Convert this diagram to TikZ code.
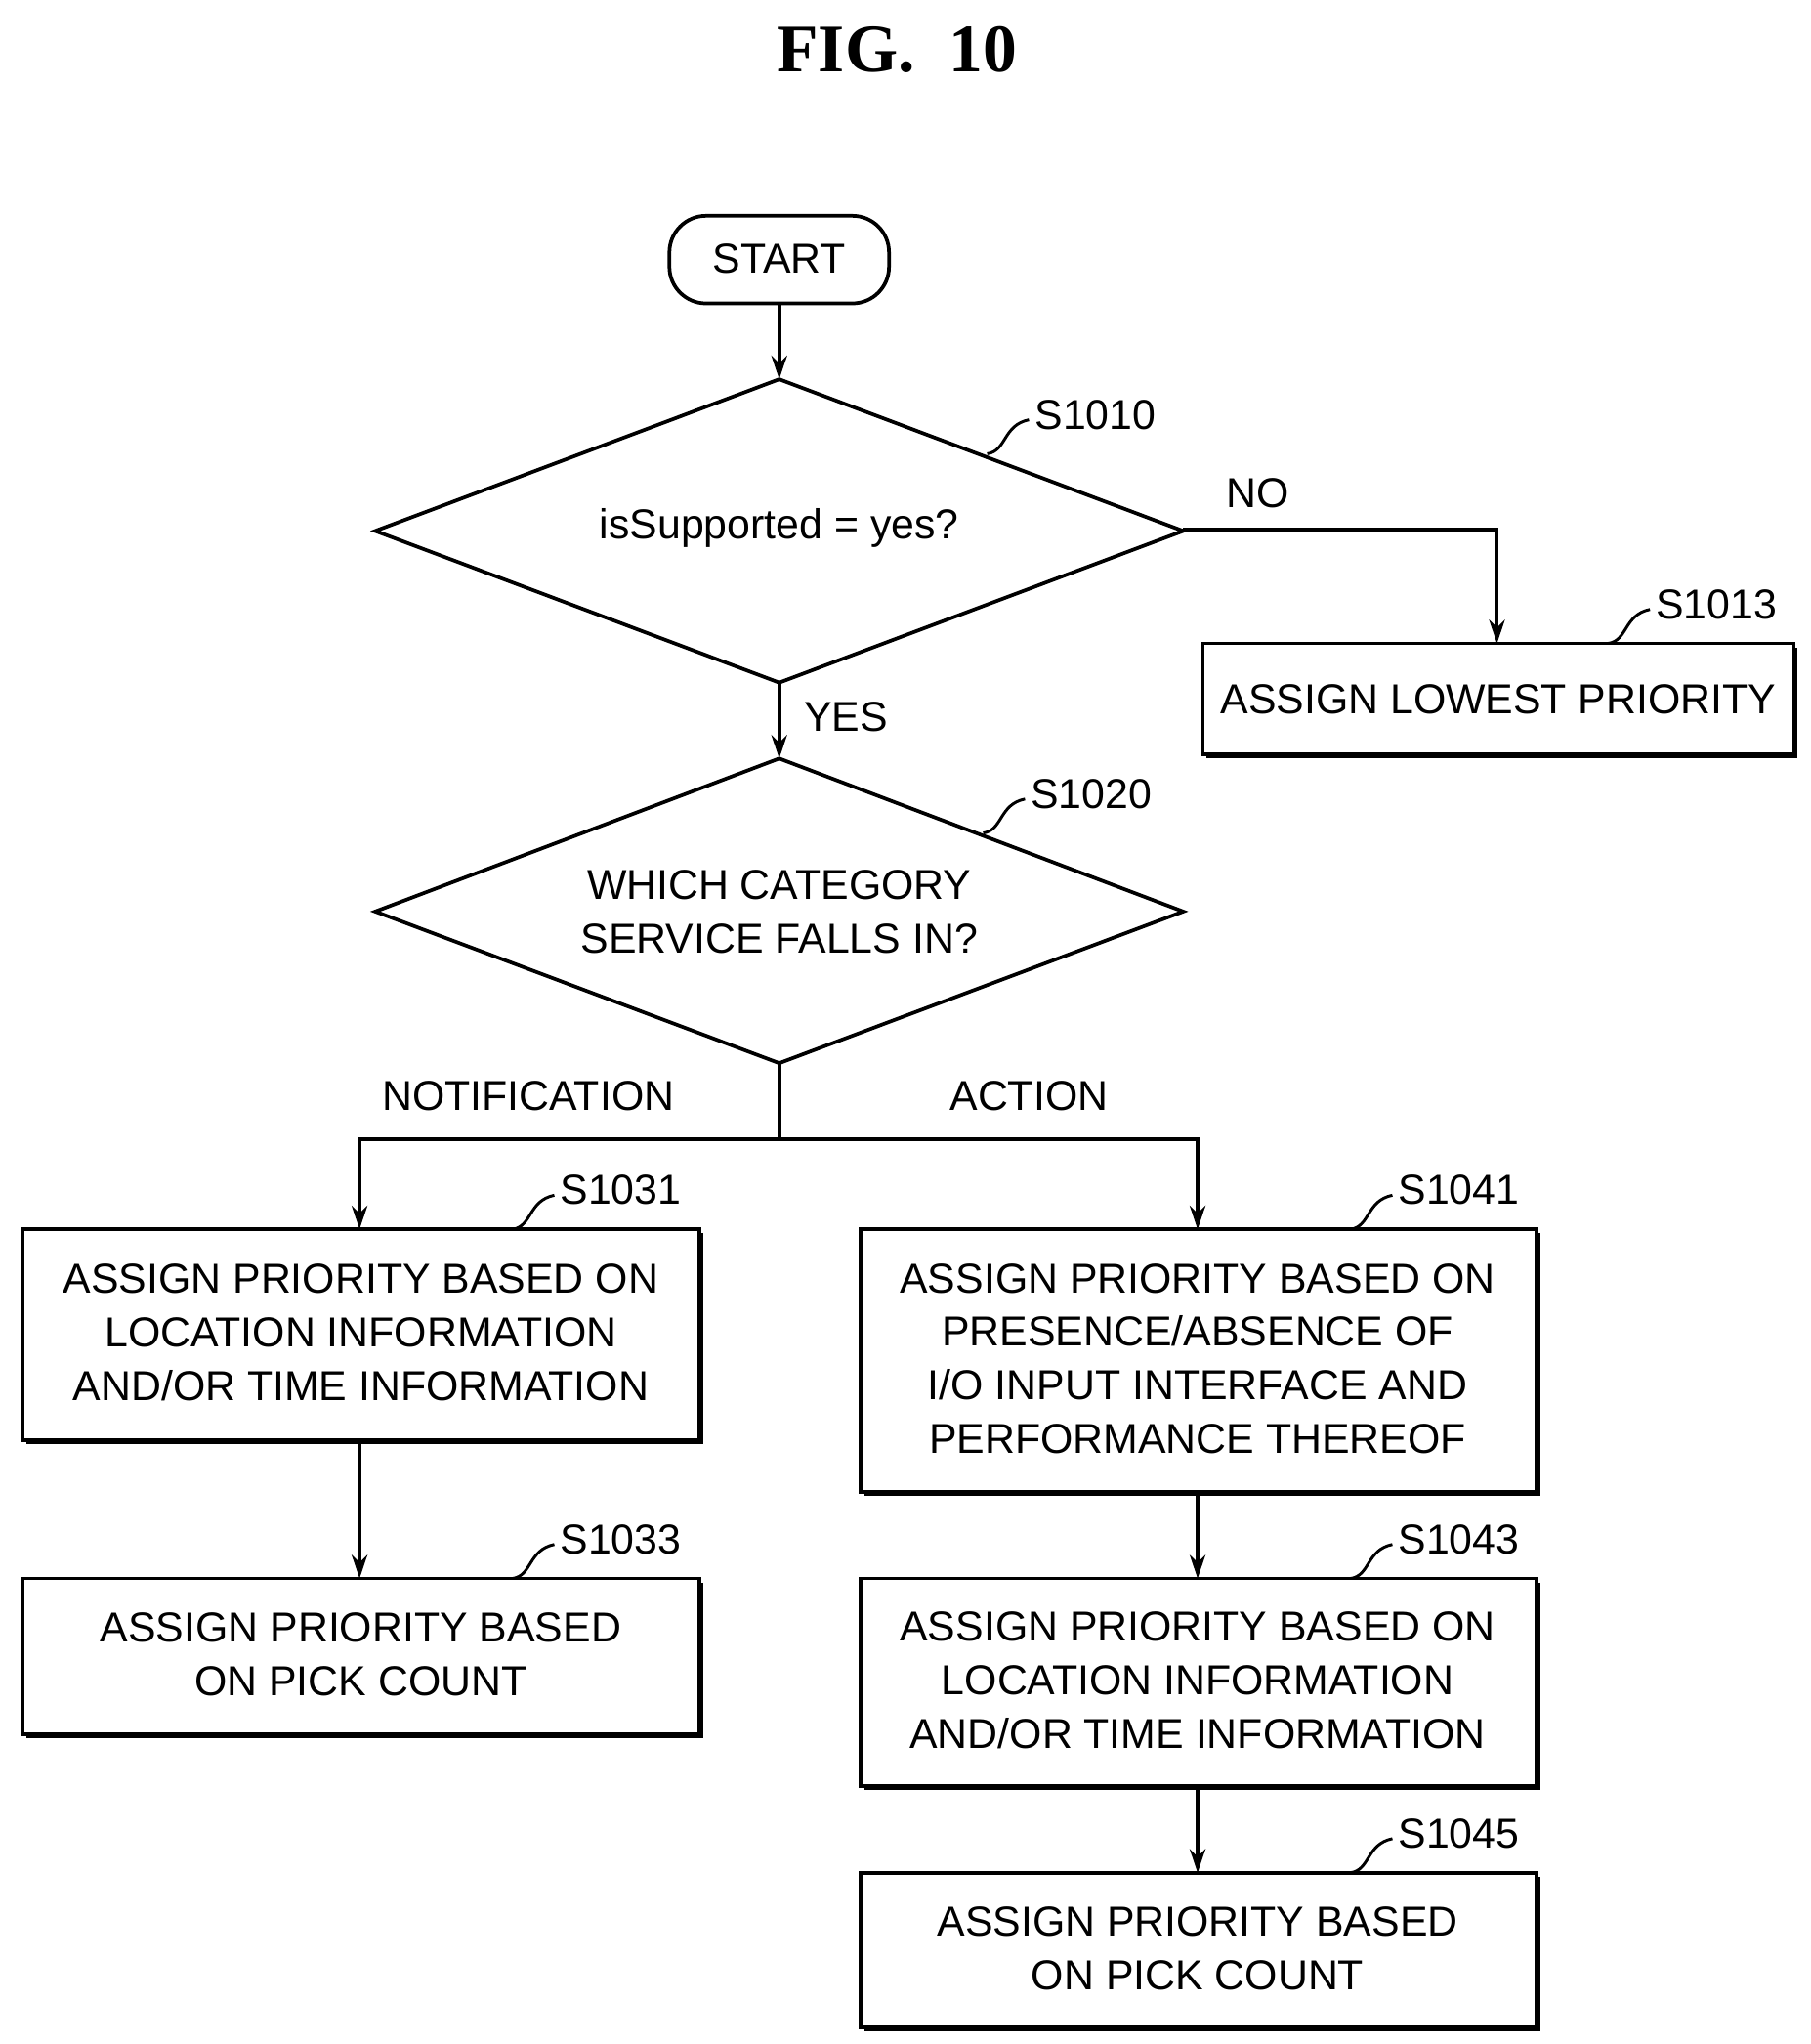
\documentclass[tikz,border=0pt]{standalone}
\usepackage{fontspec}
\setmainfont{Liberation Serif}
\newfontfamily\lab{Liberation Sans}
\usetikzlibrary{shapes.geometric,arrows.meta}
\begin{document}
\begin{tikzpicture}[x=1pt,y=-1pt,
  txt/.style={font=\lab\fontsize{32}{41}\selectfont,align=center},
  box/.style={draw,line width=2.8pt,inner sep=0pt},
  arr/.style={line width=2.8pt,-{Stealth[length=18pt,width=12pt]}},
  ln/.style={line width=2.8pt},
  lead/.style={line width=2.2pt}]
\useasboundingbox (0,0) rectangle (1385,1563);
\node[font=\bfseries\fontsize{52}{56}\selectfont] (title) at (686,38) {FIG.\ \ 10};
\draw[box,rounded corners=28pt] (512,165) rectangle (680,232);
\node[txt] (start) at (596,198) {START};
\coordinate (startb) at (596,232);
\draw[ln] (287,406) -- (596,290) -- (905,406) -- (596,522) -- cycle;
\node[txt] (d1) at (596,404) {isSupported = yes?};
\coordinate (d1t) at (596,290); \coordinate (d1r) at (905,405); \coordinate (d1b) at (596,522);
\draw[ln] (287,697) -- (596,580) -- (905,697) -- (596,813) -- cycle;
\node[txt] (d2) at (596,697) {WHICH CATEGORY\\SERVICE FALLS IN?};
\coordinate (d2t) at (596,580); \coordinate (d2b) at (596,813);
\foreach \a/\b/\c/\d in {920/492/1372/577, 17/940/535/1101, 17/1207/535/1326, 658/940/1175/1141, 658/1207/1175/1366, 658/1432/1175/1550}{
  \fill (\a+3,\b+3) rectangle (\c+3,\d+3);
  \draw[box,fill=white] (\a,\b) rectangle (\c,\d);
}
\node[txt] (s1013) at (1146,535) {ASSIGN LOWEST PRIORITY};
\node[txt] (s1031) at (276,1019) {ASSIGN PRIORITY BASED ON\\LOCATION INFORMATION\\AND/OR TIME INFORMATION};
\node[txt] (s1033) at (276,1265) {ASSIGN PRIORITY BASED\\ON PICK COUNT};
\node[txt] (s1041) at (916,1039) {ASSIGN PRIORITY BASED ON\\PRESENCE/ABSENCE OF\\I/O INPUT INTERFACE AND\\PERFORMANCE THEREOF};
\node[txt] (s1043) at (916,1285) {ASSIGN PRIORITY BASED ON\\LOCATION INFORMATION\\AND/OR TIME INFORMATION};
\node[txt] (s1045) at (916,1490) {ASSIGN PRIORITY BASED\\ON PICK COUNT};
\coordinate (b13t) at (1145,492);
\coordinate (b31t) at (275,940); \coordinate (b31b) at (275,1101); \coordinate (b33t) at (275,1207);
\coordinate (b41t) at (916,940); \coordinate (b41b) at (916,1141); \coordinate (b43t) at (916,1207);
\coordinate (b43b) at (916,1366); \coordinate (b45t) at (916,1432);
\coordinate (j) at (596,871);
\draw[arr] (startb) -- (d1t);
\draw[arr] (d1r) -| (b13t);
\draw[arr] (d1b) -- (d2t);
\draw[ln] (d2b) -- (j);
\draw[arr] (j) -| (b31t);
\draw[arr] (j) -| (b41t);
\draw[arr] (b31b) -- (b33t);
\draw[arr] (b41b) -- (b43t);
\draw[arr] (b43b) -- (b45t);
\node[txt] (no) at (962,377) {NO};
\node[txt] (yes) at (647,548) {YES};
\node[txt] (notif) at (404,838) {NOTIFICATION};
\node[txt] (act) at (787,838) {ACTION};
\foreach \n/\x/\y in {S1010/755/347, S1020/752/637, S1013/1230/492, S1031/392/940, S1033/392/1207, S1041/1033/940, S1043/1033/1207, S1045/1033/1432}{
  \draw[lead] (\x,\y) .. controls (\x+15,\y-2) and (\x+12,\y-22) .. (\x+32,\y-26);
  \node[txt,anchor=west] at (\x+33,\y-30) {\n};
}
\end{tikzpicture}
\end{document}
